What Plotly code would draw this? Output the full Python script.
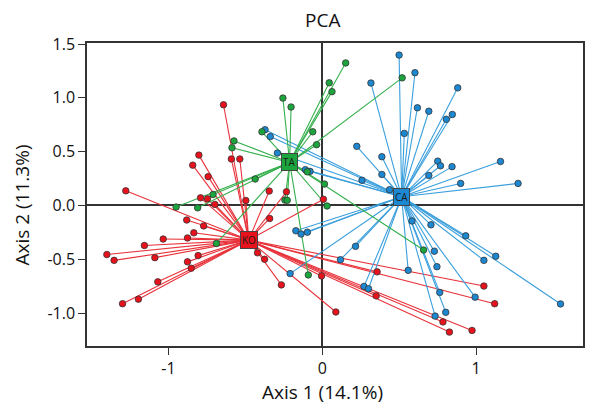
import numpy as np
import plotly.graph_objects as go

# ------------------------
# PCA scores
# ------------------------

ta_x = [0.152, 0.045, 0.063, 0.519, -0.256, -0.203, -0.062, -0.392, -0.037, -0.574,
        -0.587, -0.436, -0.710, -0.950, -0.810, 0.014, 0.031, -0.243, -0.228, -0.098,
        0.658, -0.091, -0.688]
ta_y = [1.325, 1.140, 1.058, 1.186, 0.998, 0.915, 0.685, 0.685, 0.565, 0.600,
        0.536, 0.246, 0.102, -0.015, -0.022, 0.199, -0.005, 0.050, 0.048, 0.313,
        -0.414, -0.646, -0.353]

ca_x = [0.499, 0.602, 0.316, 0.880, 0.618, 0.692, 0.845, 0.806, 0.533, 0.224,
        0.387, 1.158, 0.750, 0.768, 0.843, 0.692, 0.387, 0.258, 0.899, 1.272,
        0.437, -0.372, -0.338, -0.292, -0.110, -0.080, 0.583, 0.706, 0.932, 0.728,
        1.127, 1.050, 0.745, 0.558, 0.216, 0.118, -0.172, -0.138, -0.097, -0.209,
        0.271, 0.300, 0.763, 0.993, 0.802, 0.733, 1.548]
ca_y = [1.398, 1.234, 1.138, 1.093, 0.908, 0.876, 0.846, 0.801, 0.670, 0.550,
        0.453, 0.409, 0.412, 0.369, 0.361, 0.279, 0.288, 0.234, 0.205, 0.205,
        0.147, 0.704, 0.640, 0.487, 0.333, 0.317, -0.144, -0.180, -0.282, -0.425,
        -0.472, -0.510, -0.569, -0.603, -0.380, -0.504, -0.235, -0.265, -0.248, -0.633,
        -0.752, -0.774, -0.808, -0.852, -0.993, -1.028, -0.915]

ko_x = [-0.642, -0.802, -0.842, -0.742, -0.591, -0.536, -1.277, -0.791, -0.746, -0.698,
        -0.497, -0.345, -0.233, 0.007, -0.342, -0.881, -0.771, -0.835, -0.876, -1.034,
        -1.156, -1.400, -1.353, -1.088, -0.807, -0.876, -0.852, -1.069, -1.195, -1.298,
        -0.421, -0.375, -0.266, -0.005, 0.088, 0.356, 0.350, 1.050, 1.120, 0.784,
        0.826, 0.973]
ko_y = [0.936, 0.468, 0.375, 0.268, 0.432, 0.432, 0.136, 0.071, 0.062, 0.010,
        0.046, 0.134, 0.127, 0.058, -0.121, -0.135, -0.190, -0.254, -0.302, -0.312,
        -0.372, -0.456, -0.510, -0.485, -0.466, -0.524, -0.583, -0.710, -0.871, -0.913,
        -0.440, -0.500, -0.738, -0.655, -0.990, -0.617, -0.840, -0.749, -0.913, -1.082,
        -1.177, -1.161]

x_ticks = [-1, 0, 1]
x_tick_labels = ["-1", "0", "1"]
y_ticks = [-1.0, -0.5, 0.0, 0.5, 1.0, 1.5]
y_tick_labels = ["-1.0", "-0.5", "0.0", "0.5", "1.0", "1.5"]

groups = [
    ("KO", ko_x, ko_y, "#e8121c", "#e8323a"),
    ("CA", ca_x, ca_y, "#1c88d2", "#3a9fdc"),
    ("TA", ta_x, ta_y, "#1ca53c", "#35b04e"),
]

FONT = "Open Sans"
TEXT = "#111111"

fig = go.Figure()

# ------------------------
# Spider lines from group centroid
# ------------------------

centroids = {}
for name, xs, ys, col, lcol in groups:
    cx, cy = float(np.mean(xs)), float(np.mean(ys))
    centroids[name] = (cx, cy)
    lx, ly = [], []
    for px, py in zip(xs, ys):
        lx += [cx, px, None]
        ly += [cy, py, None]
    fig.add_trace(go.Scatter(x=lx, y=ly, mode="lines",
                             line=dict(color=lcol, width=1.1),
                             hoverinfo="skip", showlegend=False))

# ------------------------
# Points
# ------------------------

for name, xs, ys, col, lcol in groups:
    fig.add_trace(go.Scatter(x=xs, y=ys, mode="markers", name=name,
                             marker=dict(size=6.5, color=col,
                                         line=dict(color="#333333", width=0.8)),
                             showlegend=False))

# ------------------------
# Centroid labels
# ------------------------

for name, xs, ys, col, lcol in groups:
    cx, cy = centroids[name]
    fig.add_annotation(x=cx, y=cy, text=name, showarrow=False,
                       font=dict(family=FONT, size=10, color="#1a1a1a"),
                       bgcolor=col, bordercolor="#444444", borderwidth=1, borderpad=1)

# titles (page body adds an 8px offset, figure is sized to compensate)
fig.add_annotation(x=0, xref="x", y=1.075, yref="paper", text="PCA", showarrow=False,
                   font=dict(family=FONT, size=19, color=TEXT), yanchor="middle")
fig.add_annotation(x=0, xref="x", y=-0.152, yref="paper", text="Axis 1 (14.1%)",
                   showarrow=False, yanchor="middle",
                   font=dict(family=FONT, size=19, color=TEXT))
fig.add_annotation(x=-0.131, xref="paper", y=0, yref="y", text="Axis 2 (11.3%)",
                   showarrow=False, textangle=-90, xanchor="center",
                   font=dict(family=FONT, size=19, color=TEXT))

axis_style = dict(showgrid=False, showline=True, mirror=True, linecolor="#333333",
                  linewidth=1.5, ticks="outside", ticklen=7, tickcolor="#333333",
                  zeroline=True, zerolinecolor="#333333", zerolinewidth=1.5,
                  tickfont=dict(family=FONT, size=16, color=TEXT))

fig.update_layout(
    width=592, height=402,
    margin=dict(l=79, r=17, t=35, b=64),
    plot_bgcolor="white", paper_bgcolor="white",
    xaxis=dict(range=[-1.529, 1.694], tickvals=x_ticks, ticktext=x_tick_labels, **axis_style),
    yaxis=dict(range=[-1.306, 1.51], tickvals=y_ticks, ticktext=y_tick_labels, **axis_style),
)

fig.write_html("out.html")
